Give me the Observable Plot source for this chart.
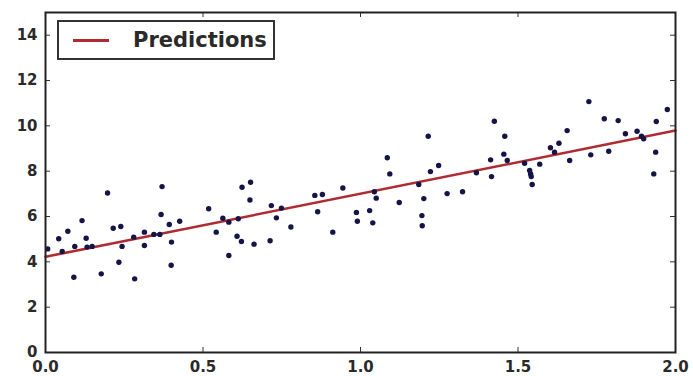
<!DOCTYPE html>
<html><head><meta charset="utf-8">
<script src="https://cdn.jsdelivr.net/npm/d3@7"></script>
<script src="https://cdn.jsdelivr.net/npm/@observablehq/plot@0.6"></script>
<style>
body{margin:0;background:#fff;}
#wrap{position:relative;width:693px;height:376px;}
#legend{position:absolute;left:57px;top:20px;width:218px;height:40px;border:2px solid #333;background:#fff;box-sizing:border-box;font:bold 21px "DejaVu Sans",sans-serif;color:#2a2a2a;display:flex;align-items:center;}
#legend .sw{display:inline-block;width:36px;height:3px;background:#b02a32;margin-left:14px;margin-right:24px;}
</style></head><body><div id="wrap"><div id="legend"><span class="sw"></span><span>Predictions</span></div></div>
<script>
const xs = [0.007,0.042,0.053,0.071,0.09,0.093,0.116,0.129,0.132,0.148,0.177,0.197,0.215,0.239,0.233,0.243,0.283,0.28,0.314,0.314,0.344,0.363,0.37,0.367,0.393,0.4,0.399,0.426,
0.518,0.542,0.563,0.582,0.582,0.608,0.612,0.622,0.624,0.651,0.649,0.662,0.713,0.717,0.733,0.749,0.779,0.855,0.879,0.864,0.912,0.944,0.987,0.99,
1.029,1.039,1.044,1.05,1.085,1.093,1.123,1.185,1.201,1.195,1.196,1.215,1.222,1.248,1.275,1.324,1.368,1.413,1.416,1.425,1.458,1.455,1.466,
1.521,1.537,1.54,1.542,1.545,1.569,1.603,1.616,1.63,1.656,1.664,1.725,1.731,1.774,1.788,1.818,1.841,1.878,1.892,1.899,1.939,1.937,1.931,1.974];
const ys = [4.57,5.02,4.46,5.35,3.32,4.68,5.82,5.04,4.65,4.68,3.47,7.04,5.48,5.56,3.98,4.68,3.25,5.09,5.31,4.72,5.21,5.21,7.32,6.09,5.65,4.87,3.85,5.79,
6.34,5.31,5.92,5.75,4.28,5.13,5.9,4.9,7.29,7.51,6.73,4.78,4.93,6.48,5.94,6.37,5.54,6.93,6.97,6.21,5.31,7.26,6.18,5.79,
6.26,5.72,7.09,6.81,8.59,7.88,6.62,7.41,6.79,6.04,5.59,9.54,7.98,8.25,7.01,7.09,7.93,8.5,7.76,10.2,9.54,8.75,8.47,
8.35,8.03,7.88,7.76,7.41,8.31,9.03,8.84,9.23,9.79,8.47,11.07,8.72,10.31,8.88,10.23,9.65,9.76,9.54,9.43,10.19,8.84,7.88,10.72];
const lineX = [0, 2];
const lineY = [4.22, 9.79];
const xTicks = [0, 0.5, 1, 1.5, 2];
const yTicks = [0, 2, 4, 6, 8, 10, 12, 14];

const points = xs.map((x, i) => ({x, y: ys[i]}));
const linePts = lineX.map((x, i) => ({x, y: lineY[i]}));

const W = 693, H = 376, mL = 45, mR = 18, mT = 12, mB = 24;
const iw = W - mL - mR, ih = H - mT - mB;

const chart = Plot.plot({
  width: W, height: H, marginLeft: mL, marginRight: mR, marginTop: mT, marginBottom: mB,
  x: {domain: [0, 2]},
  y: {domain: [0, 15]},
  style: {fontFamily: "'DejaVu Sans', sans-serif", background: "#fff", color: "#2a2a2a"},
  marks: [
    Plot.line(linePts, {x: "x", y: "y", stroke: "#b02a32", strokeWidth: 2.5}),
    Plot.dot(points, {x: "x", y: "y", r: 2.7, fill: "#141446", stroke: "none"}),
    Plot.tickX(xTicks, {x: d => d, insetTop: ih - 5, stroke: "#333"}),
    Plot.tickX(xTicks, {x: d => d, insetBottom: ih - 5, stroke: "#333"}),
    Plot.tickY(yTicks, {y: d => d, insetRight: iw - 5, stroke: "#333"}),
    Plot.tickY(yTicks, {y: d => d, insetLeft: iw - 5, stroke: "#333"}),
    Plot.frame({stroke: "#222", strokeWidth: 2}),
    Plot.axisX(xTicks, {tickSize: 0, tickPadding: 9, tickFormat: d3.format(".1f"), fontSize: 15, fontWeight: "bold", label: null}),
    Plot.axisY(yTicks, {tickSize: 0, tickPadding: 8, fontSize: 15, fontWeight: "bold", label: null})
  ]
});
document.getElementById("wrap").prepend(chart);
</script></body></html>
